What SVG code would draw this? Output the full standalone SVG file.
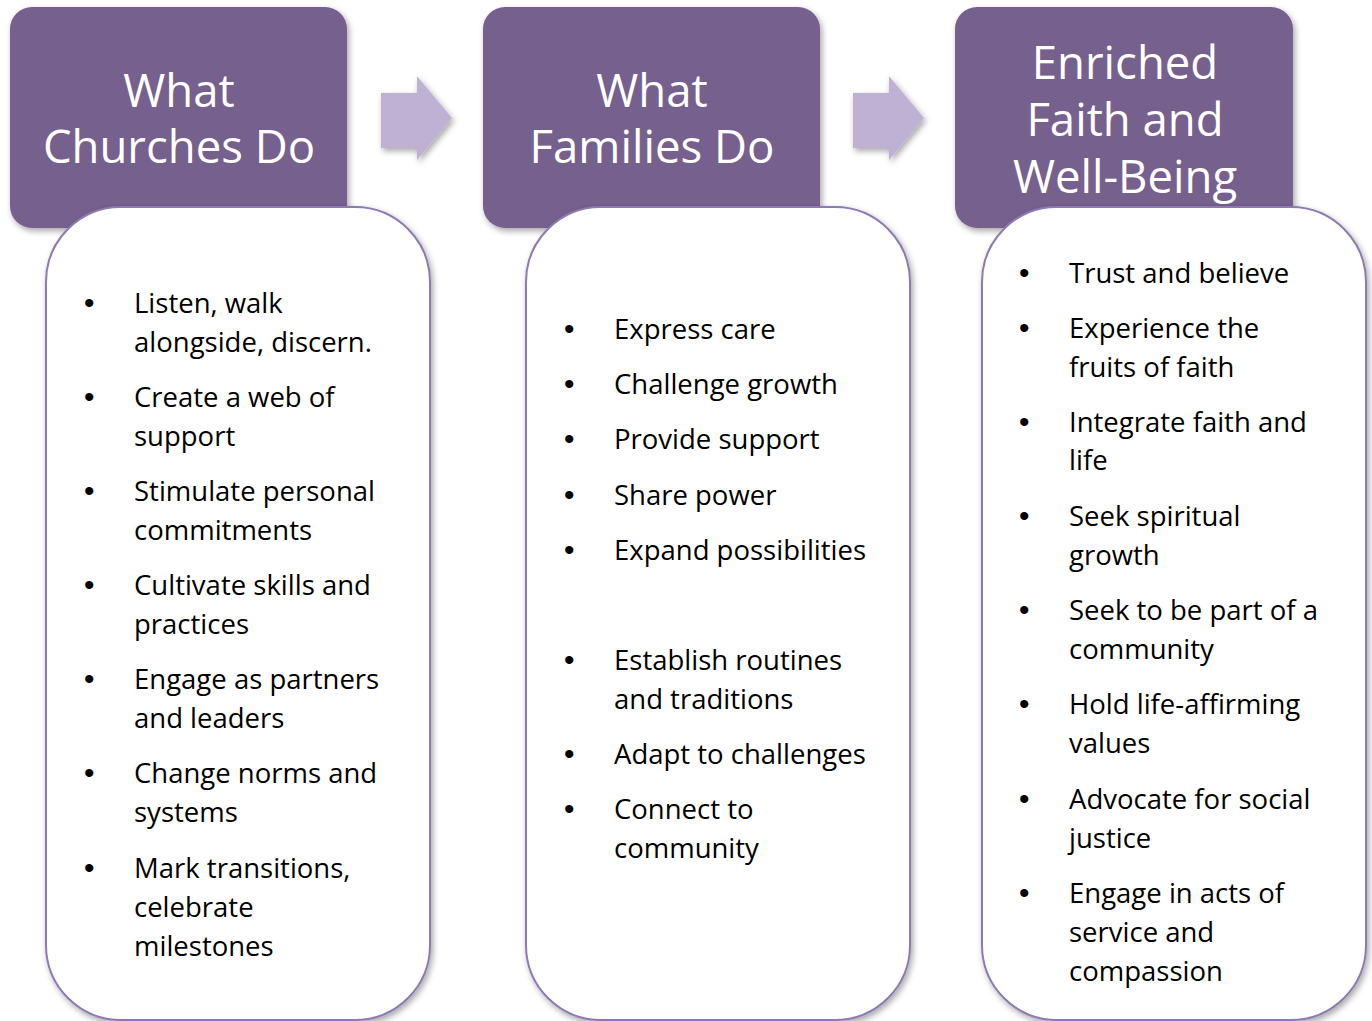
<svg xmlns="http://www.w3.org/2000/svg" width="1372" height="1021" viewBox="0 0 1372 1021">
  <defs>
    <filter id="shadow" x="-10%" y="-10%" width="120%" height="120%">
      <feDropShadow dx="2" dy="3" stdDeviation="3" flood-color="#000" flood-opacity="0.35"/>
    </filter>
    <style>
      .head { fill: #76608D; filter: url(#shadow); }
      .card { fill: #FFFFFF; stroke: #8E7AB2; stroke-width: 2; filter: url(#shadow); }
      .arrow { fill: #BEB1D4; filter: url(#shadow); }
      .title { font-family: "Open Sans", "Liberation Sans", sans-serif; font-size: 45.5px; fill: #FFFFFF; text-anchor: middle; }
      .item { font-family: "Open Sans", "Liberation Sans", sans-serif; font-size: 27.5px; fill: #000000; }
      .dot { font-family: "Liberation Sans", sans-serif; font-size: 30px; fill: #000000; }
    </style>
  </defs>
  <rect width="1372" height="1021" fill="#FFFFFF"/>

  <!-- flow arrows between the stages -->
  <g id="connectors">
    <path class="arrow" d="M381,93 H417 V76 L452,118 L417,160 V148 H381 Z"/>
    <path class="arrow" d="M853,93 H889 V76 L924,118 L889,160 V148 H853 Z"/>
  </g>

  <!-- stage 1 -->
  <g id="churches">
    <rect class="head" x="10" y="7" width="337" height="221" rx="22"/>
    <text class="title" x="179" y="107">What</text>
    <text class="title" x="179" y="163">Churches Do</text>
    <rect class="card" x="46" y="207" width="384" height="813" rx="75"/>
    <g class="dot">
      <text x="84" y="313">•</text>
      <text x="84" y="407">•</text>
      <text x="84" y="501">•</text>
      <text x="84" y="595">•</text>
      <text x="84" y="689">•</text>
      <text x="84" y="783">•</text>
      <text x="84" y="878">•</text>
    </g>
    <g class="item">
      <text x="134" y="313">Listen, walk</text>
      <text x="134" y="352">alongside, discern.</text>
      <text x="134" y="407">Create a web of</text>
      <text x="134" y="446">support</text>
      <text x="134" y="501">Stimulate personal</text>
      <text x="134" y="540">commitments</text>
      <text x="134" y="595">Cultivate skills and</text>
      <text x="134" y="634">practices</text>
      <text x="134" y="689">Engage as partners</text>
      <text x="134" y="728">and leaders</text>
      <text x="134" y="783">Change norms and</text>
      <text x="134" y="822">systems</text>
      <text x="134" y="878">Mark transitions,</text>
      <text x="134" y="917">celebrate</text>
      <text x="134" y="956">milestones</text>
    </g>
  </g>

  <!-- stage 2 -->
  <g id="families">
    <rect class="head" x="483" y="7" width="337" height="221" rx="22"/>
    <text class="title" x="652" y="107">What</text>
    <text class="title" x="652" y="163">Families Do</text>
    <rect class="card" x="526" y="207" width="384" height="813" rx="75"/>
    <g class="dot">
      <text x="564" y="339">•</text>
      <text x="564" y="394">•</text>
      <text x="564" y="449">•</text>
      <text x="564" y="505">•</text>
      <text x="564" y="560">•</text>
      <text x="564" y="670">•</text>
      <text x="564" y="764">•</text>
      <text x="564" y="819">•</text>
    </g>
    <g class="item">
      <text x="614" y="339">Express care</text>
      <text x="614" y="394">Challenge growth</text>
      <text x="614" y="449">Provide support</text>
      <text x="614" y="505">Share power</text>
      <text x="614" y="560">Expand possibilities</text>
      <text x="614" y="670">Establish routines</text>
      <text x="614" y="709">and traditions</text>
      <text x="614" y="764">Adapt to challenges</text>
      <text x="614" y="819">Connect to</text>
      <text x="614" y="858">community</text>
    </g>
  </g>

  <!-- stage 3 -->
  <g id="enriched">
    <rect class="head" x="955" y="7" width="338" height="221" rx="22"/>
    <text class="title" x="1125" y="79">Enriched</text>
    <text class="title" x="1125" y="136">Faith and</text>
    <text class="title" x="1125" y="193">Well-Being</text>
    <rect class="card" x="982" y="207" width="384" height="813" rx="75"/>
    <g class="dot">
      <text x="1019" y="283">•</text>
      <text x="1019" y="338">•</text>
      <text x="1019" y="432">•</text>
      <text x="1019" y="526">•</text>
      <text x="1019" y="620">•</text>
      <text x="1019" y="714">•</text>
      <text x="1019" y="809">•</text>
      <text x="1019" y="903">•</text>
    </g>
    <g class="item">
      <text x="1069" y="283">Trust and believe</text>
      <text x="1069" y="338">Experience the</text>
      <text x="1069" y="377">fruits of faith</text>
      <text x="1069" y="432">Integrate faith and</text>
      <text x="1069" y="470">life</text>
      <text x="1069" y="526">Seek spiritual</text>
      <text x="1069" y="565">growth</text>
      <text x="1069" y="620">Seek to be part of a</text>
      <text x="1069" y="659">community</text>
      <text x="1069" y="714">Hold life-affirming</text>
      <text x="1069" y="753">values</text>
      <text x="1069" y="809">Advocate for social</text>
      <text x="1069" y="848">justice</text>
      <text x="1069" y="903">Engage in acts of</text>
      <text x="1069" y="942">service and</text>
      <text x="1069" y="981">compassion</text>
    </g>
  </g>
</svg>
